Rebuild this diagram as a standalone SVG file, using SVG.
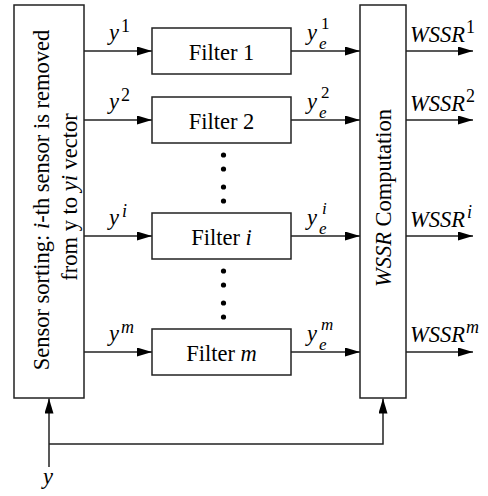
<svg xmlns="http://www.w3.org/2000/svg" width="488" height="496" viewBox="0 0 488 496" font-family="Liberation Serif, Times New Roman, DejaVu Serif, serif">
<style>
.box{fill:#fff;stroke:#222;stroke-width:1.5}
.ln{fill:none;stroke:#222;stroke-width:1.5}
text{font-size:22.5px;fill:#000}
.c{text-anchor:middle}
.it{font-style:italic}
.sc{font-size:18px}
.ss{font-size:17px}
</style>
<defs>
<marker id="ah" markerUnits="userSpaceOnUse" viewBox="0 0 15 9" markerWidth="15" markerHeight="9" refX="15" refY="4.5" orient="auto">
<path d="M0,0 L15,4.5 L0,9 z" fill="#000"/>
</marker>
</defs>
<g id="connectors">
<line class="ln" x1="84" y1="51" x2="152" y2="51" marker-end="url(#ah)"/>
<line class="ln" x1="84" y1="120" x2="152" y2="120" marker-end="url(#ah)"/>
<line class="ln" x1="84" y1="236" x2="152" y2="236" marker-end="url(#ah)"/>
<line class="ln" x1="84" y1="352" x2="152" y2="352" marker-end="url(#ah)"/>
<line class="ln" x1="291" y1="51" x2="360" y2="51" marker-end="url(#ah)"/>
<line class="ln" x1="291" y1="120" x2="360" y2="120" marker-end="url(#ah)"/>
<line class="ln" x1="291" y1="236" x2="360" y2="236" marker-end="url(#ah)"/>
<line class="ln" x1="291" y1="352" x2="360" y2="352" marker-end="url(#ah)"/>
<line class="ln" x1="406" y1="51" x2="473" y2="51" marker-end="url(#ah)"/>
<line class="ln" x1="406" y1="120" x2="473" y2="120" marker-end="url(#ah)"/>
<line class="ln" x1="406" y1="236" x2="473" y2="236" marker-end="url(#ah)"/>
<line class="ln" x1="406" y1="352" x2="473" y2="352" marker-end="url(#ah)"/>
<path class="ln" d="M49,467 V398.5" marker-end="url(#ah)"/>
<path class="ln" d="M49,444 H383 V398.5" marker-end="url(#ah)"/>
</g>
<g id="sorting">
<rect class="box" x="14" y="5" width="70" height="393"/>
<text class="c" transform="translate(48.5,200) rotate(-90)">Sensor sorting: <tspan class="it">i</tspan>-th sensor is removed</text>
<text class="c" transform="translate(77,197) rotate(-90)">from y to <tspan class="it">yi</tspan> vector</text>
</g>
<g id="filter1">
<rect class="box" x="152" y="28" width="139" height="46"/>
<text class="c" x="221.5" y="60">Filter 1</text>
</g>
<g id="filter2">
<rect class="box" x="152" y="97" width="139" height="46"/>
<text class="c" x="221.5" y="129">Filter 2</text>
</g>
<g id="filteri">
<rect class="box" x="152" y="213" width="139" height="46"/>
<text class="c" x="221.5" y="245">Filter <tspan class="it">i</tspan></text>
</g>
<g id="filterm">
<rect class="box" x="152" y="329" width="139" height="46"/>
<text class="c" x="221.5" y="361">Filter <tspan class="it">m</tspan></text>
</g>
<g id="dots" fill="#000">
<circle cx="223.5" cy="155" r="2.6"/>
<circle cx="223.5" cy="169" r="2.6"/>
<circle cx="223.5" cy="187" r="2.6"/>
<circle cx="223.5" cy="201" r="2.6"/>
<circle cx="223.5" cy="271" r="2.6"/>
<circle cx="223.5" cy="285" r="2.6"/>
<circle cx="223.5" cy="303" r="2.6"/>
<circle cx="223.5" cy="317" r="2.6"/>
</g>
<g id="wssr">
<rect class="box" x="360" y="5" width="46" height="393"/>
<text class="c" transform="translate(391,198) rotate(-90)"><tspan class="it">WSSR</tspan> Computation</text>
</g>
<g id="labels">
<text class="it" x="109" y="40">y</text><text class="sc" x="121" y="32">1</text>
<text class="it" x="109" y="109">y</text><text class="sc" x="121" y="101">2</text>
<text class="it" x="109" y="225">y</text><text class="sc it" x="122" y="217">i</text>
<text class="it" x="109" y="341">y</text><text class="sc it" x="121" y="333">m</text>
<text class="it" x="307" y="40">y</text><text class="ss it" x="319" y="49">e</text><text class="ss" x="321" y="29">1</text>
<text class="it" x="307" y="109">y</text><text class="ss it" x="319" y="118">e</text><text class="ss" x="321" y="98">2</text>
<text class="it" x="307" y="225">y</text><text class="ss it" x="319" y="234">e</text><text class="ss it" x="322" y="214">i</text>
<text class="it" x="307" y="341">y</text><text class="ss it" x="319" y="350">e</text><text class="ss it" x="321" y="330">m</text>
<text class="it" x="410" y="42">WSSR</text><text class="sc" x="466" y="33">1</text>
<text class="it" x="410" y="111">WSSR</text><text class="sc" x="466" y="102">2</text>
<text class="it" x="410" y="227">WSSR</text><text class="sc it" x="467" y="218">i</text>
<text class="it" x="410" y="342">WSSR</text><text class="sc it" x="466" y="333">m</text>
<text class="it" x="43" y="484">y</text>
</g>
</svg>
